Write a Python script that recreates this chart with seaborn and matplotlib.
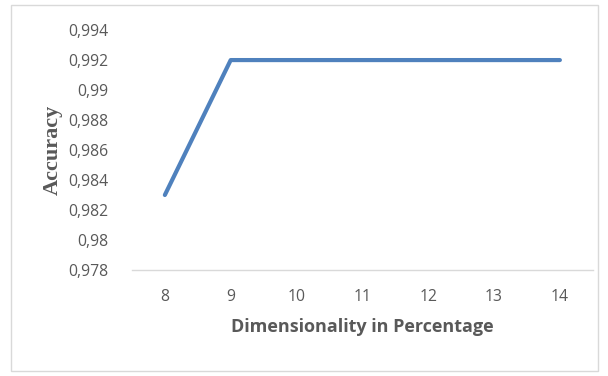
import matplotlib
matplotlib.use("Agg")
import matplotlib.pyplot as plt
import matplotlib.ticker as mticker
from matplotlib.patches import Rectangle
import seaborn as sns
import pandas as pd
import numpy as np

# data
dimensionality = ["8", "9", "10", "11", "12", "13", "14"]
accuracy = [0.983, 0.992, 0.992, 0.992, 0.992, 0.992, 0.992]
y_ticks = [0.978, 0.980, 0.982, 0.984, 0.986, 0.988, 0.990, 0.992, 0.994]

sns.set_theme(style="white")
plt.rcParams['font.family'] = ['Open Sans', 'Liberation Sans', 'DejaVu Sans']

df = pd.DataFrame({"dim": dimensionality, "acc": accuracy})

fig = plt.figure(figsize=(6.08, 3.76), dpi=100)
ax = fig.add_axes([0.217, 0.282, 0.758, 0.638])

sns.lineplot(data=df, x="dim", y="acc", ax=ax, color="#4f81bd", linewidth=3,
             solid_capstyle="round", sort=False)

ax.set_xlim(-0.5, len(dimensionality) - 0.5)
ax.set_ylim(y_ticks[0], y_ticks[-1])
ax.set_yticks(y_ticks)


def comma_fmt(v, pos):
    s = f"{v:.3f}".rstrip("0")
    return s.replace(".", ",")


ax.yaxis.set_major_formatter(mticker.FuncFormatter(comma_fmt))
ax.tick_params(axis="both", length=0, labelsize=11.3, labelcolor="#595959")
ax.tick_params(axis="x", pad=14)
ax.tick_params(axis="y", pad=17)

for side in ["top", "right", "left"]:
    ax.spines[side].set_visible(False)
ax.spines["bottom"].set_color("#d9d9d9")
ax.spines["bottom"].set_linewidth(1)
ax.grid(False)

ax.set_xlabel("Dimensionality in Percentage", fontsize=13, fontweight="bold",
              color="#595959", labelpad=9)
ax.set_ylabel("Accuracy", fontsize=16, fontweight="bold", color="#595959",
              family=["Liberation Serif", "DejaVu Serif"])
ax.yaxis.set_label_coords(-0.150, 0.50)

# outer chart border
fig.patches.append(Rectangle((0.018, 0.012), 0.966, 0.975, transform=fig.transFigure,
                             fill=False, edgecolor="#d9d9d9", linewidth=1))

fig.savefig("out.png", dpi=100)
